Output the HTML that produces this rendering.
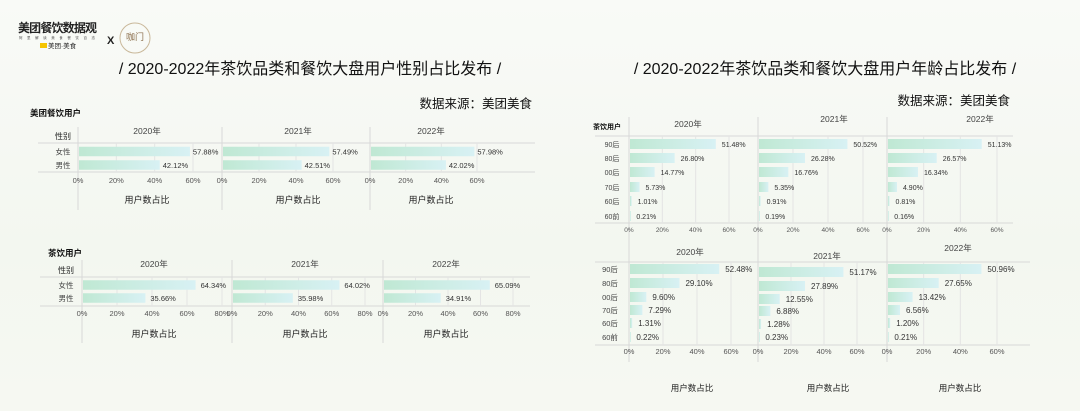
<!DOCTYPE html>
<html><head><meta charset="utf-8">
<style>
html,body{margin:0;padding:0;}
body{width:1080px;height:411px;overflow:hidden;background:linear-gradient(180deg,#f9faf7 0%,#f3f7f0 60%,#f6f8f2 100%);font-family:"Liberation Sans","Noto Sans CJK SC",sans-serif;}
svg{position:absolute;left:0;top:0;}
</style></head>
<body>
<svg id="chart" width="1080" height="411" viewBox="0 0 1080 411">
<defs>
<linearGradient id="barg" x1="0" x2="1" y1="0" y2="0">
<stop offset="0" stop-color="#bfe8d3"/><stop offset="1" stop-color="#d8f1f4"/>
</linearGradient>
</defs>
<g>
<text x="18" y="32" font-size="12" font-weight="bold" fill="#222" textLength="79">美团餐饮数据观</text>
<text x="19" y="39" font-size="3.5" fill="#555" textLength="76">阿 里 解 读 美 食 餐 饮 百 态</text>
<rect x="40" y="43" width="7" height="5" fill="#f5c400"/>
<text x="48" y="48" font-size="6.5" fill="#222">美团·美食</text>
<text x="107" y="44" font-size="11" font-weight="bold" fill="#222">X</text>
<circle cx="135" cy="38" r="15" fill="none" stroke="#c9b89a" stroke-width="1"/>
<text x="126" y="40" font-size="9" fill="#8a6e4b">咖门</text>
</g>
<text x="310" y="74" font-size="16" fill="#111" text-anchor="middle">/ 2020-2022年茶饮品类和餐饮大盘用户性别占比发布 /</text>
<text x="825" y="74" font-size="16" fill="#111" text-anchor="middle">/ 2020-2022年茶饮品类和餐饮大盘用户年龄占比发布 /</text>
<text x="532" y="108" font-size="12.5" fill="#111" text-anchor="end">数据来源：美团美食</text>
<text x="1010" y="105" font-size="12.5" fill="#111" text-anchor="end">数据来源：美团美食</text>
<text x="30" y="116" font-size="8.5" font-weight="bold" fill="#111">美团餐饮用户</text>
<text x="48" y="256" font-size="8.5" font-weight="bold" fill="#111">茶饮用户</text>
<text x="593" y="129" font-size="7" font-weight="bold" fill="#111">茶饮用户</text>
<g id="plots"></g>
</svg>
<script>
// ---- data ----
var years = ['2020年','2021年','2022年'];
var genderCats = ['女性','男性'];
var diningFemale = [57.88, 57.49, 57.98];
var diningMale = [42.12, 42.51, 42.02];
var teaFemale = [64.34, 64.02, 65.09];
var teaMale = [35.66, 35.98, 34.91];
var ageCats = ['90后','80后','00后','70后','60后','60前'];
var teaAge2020 = [51.48, 26.80, 14.77, 5.73, 1.01, 0.21];
var teaAge2021 = [50.52, 26.28, 16.76, 5.35, 0.91, 0.19];
var teaAge2022 = [51.13, 26.57, 16.34, 4.90, 0.81, 0.16];
var dineAge2020 = [52.48, 29.10, 9.60, 7.29, 1.31, 0.22];
var dineAge2021 = [51.17, 27.89, 12.55, 6.88, 1.28, 0.23];
var dineAge2022 = [50.96, 27.65, 13.42, 6.56, 1.20, 0.21];
var ticks60 = [0, 20, 40, 60];
var ticks80 = [0, 20, 40, 60, 80];

var NS = 'http://www.w3.org/2000/svg';
var root = document.getElementById('plots');
function mk(tag, attrs, parent){var e=document.createElementNS(NS,tag);for(var k in attrs)e.setAttribute(k,attrs[k]);(parent||root).appendChild(e);return e;}
function txt(s, attrs, parent){var e=mk('text',attrs,parent);e.textContent=s;return e;}

function drawGroup(cfg){
  var g = mk('g',{});
  
  
  mk('line',{x1:cfg.left,x2:cfg.right,y1:cfg.headY,y2:cfg.headY,stroke:'#d8d8d8','stroke-width':1},g);
  mk('line',{x1:cfg.left,x2:cfg.right,y1:cfg.botY,y2:cfg.botY,stroke:'#d8d8d8','stroke-width':1},g);
  if(cfg.catHead){
    var ch = txt(cfg.catHead,{x:cfg.catX,y:cfg.headY-4,'font-size':cfg.labFs+0.5,fill:'#222','text-anchor':'middle'},g);
    
    
  }
  cfg.cats.forEach(function(c,i){
    var t = txt(c,{x:cfg.catX,y:cfg.rows[i]+3,'font-size':cfg.labFs,fill:'#444','text-anchor':'middle'},g);
    
    
  });
  cfg.panels.forEach(function(p,pi){
    var sx = function(v){return p.x0 + (p.x1 - p.x0) * v / p.vmax;};
    var pg = mk('g',{},g);
    
    
    mk('line',{x1:p.x0,x2:p.x0,y1:cfg.sepTop,y2:cfg.sepBot,stroke:'#d8d8d8','stroke-width':1},pg);
    cfg.ticks.forEach(function(t){
      if(t>0) mk('line',{x1:sx(t),x2:sx(t),y1:cfg.headY,y2:cfg.botY,stroke:'#e4e4e4','stroke-width':1},pg);
      var tl = txt(t+'%',{x:sx(t),y:cfg.botY+cfg.tickDy,'font-size':cfg.tickFs,fill:'#555','text-anchor':'middle'},pg);
      
      
    });
    var yt = txt(years[pi],{x:p.yearX,y:p.yearY,'font-size':cfg.yearFs,fill:'#444','text-anchor':'middle'},pg);
    
    
    p.values.forEach(function(v,i){
      var cy = (p.rows||cfg.rows)[i];
      var r = mk('rect',{x:p.x0+1,y:cy-cfg.barH/2,width:Math.max(0.8,sx(v)-p.x0),height:cfg.barH,fill:'url(#barg)'},pg);
      
      
      var vl = txt(v.toFixed(2)+'%',{x:sx(v)+cfg.valDx,y:cy+3,'font-size':cfg.valFs,fill:'#333'},pg);
      
      
    });
    var xl = txt('用户数占比',{x:p.xlabX,y:cfg.xlabY,'font-size':cfg.xlabFs,fill:'#222','text-anchor':'middle'},pg);
    
    
  });
}

drawGroup({name:'dining-gender-chart',cats:genderCats,catHead:'性别',catX:63,left:38,right:535,headY:143,botY:172,
  sepTop:127,sepBot:210,rows:[151.5,165],barH:9.5,ticks:ticks60,tickDy:11,tickFs:7.5,yearFs:8.5,labFs:7.5,valFs:7.5,valDx:4,xlabY:203,xlabFs:9,
  panels:[{x0:78,x1:193,vmax:60,values:[diningFemale[0],diningMale[0]],yearX:147,yearY:134,xlabX:147},
          {x0:222,x1:333,vmax:60,values:[diningFemale[1],diningMale[1]],yearX:298,yearY:134,xlabX:298},
          {x0:370,x1:477,vmax:60,values:[diningFemale[2],diningMale[2]],yearX:431,yearY:134,xlabX:431}]});

drawGroup({name:'tea-gender-chart',cats:genderCats,catHead:'性别',catX:66,left:40,right:530,headY:277,botY:306,
  sepTop:260,sepBot:343,rows:[285,298],barH:9.5,ticks:ticks80,tickDy:10,tickFs:7.5,yearFs:8.5,labFs:7.5,valFs:7.5,valDx:6,xlabY:337,xlabFs:9,
  panels:[{x0:82,x1:222,vmax:80,values:[teaFemale[0],teaMale[0]],yearX:154,yearY:267,xlabX:154},
          {x0:232,x1:365,vmax:80,values:[teaFemale[1],teaMale[1]],yearX:305,yearY:267,xlabX:305},
          {x0:383,x1:513,vmax:80,values:[teaFemale[2],teaMale[2]],yearX:446,yearY:267,xlabX:446}]});

drawGroup({name:'tea-age-chart',cats:ageCats,catHead:null,catX:612,left:595,right:1013,headY:136,botY:223,
  sepTop:117,sepBot:240,rows:[144,158,172,187,201,216],barH:10,ticks:ticks60,tickDy:9,tickFs:6.5,yearFs:8.5,labFs:7,valFs:7,valDx:7,xlabY:-50,xlabFs:9,
  panels:[{x0:629,x1:729,vmax:60,values:teaAge2020,yearX:688,yearY:127,xlabX:-100},
          {x0:758,x1:863,vmax:60,values:teaAge2021,yearX:834,yearY:122,xlabX:-100},
          {x0:887,x1:997,vmax:60,values:teaAge2022,yearX:980,yearY:122,xlabX:-100}]});

drawGroup({name:'dining-age-chart',cats:ageCats,catHead:null,catX:610,left:595,right:1030,headY:262,botY:345,
  sepTop:240,sepBot:362,rows:[269,283,297,310,323,337],barH:10,ticks:ticks60,tickDy:9,tickFs:7.5,yearFs:8.5,labFs:7.5,valFs:8,valDx:7,xlabY:391,xlabFs:8.5,
  panels:[{x0:629,x1:731,vmax:60,values:dineAge2020,yearX:690,yearY:255,xlabX:692},
          {x0:758,x1:857,vmax:60,values:dineAge2021,rows:[272,286,299,311,324,337],yearX:827,yearY:259,xlabX:828},
          {x0:887,x1:997,vmax:60,values:dineAge2022,yearX:958,yearY:251,xlabX:960}]});
</script>
</body></html>
